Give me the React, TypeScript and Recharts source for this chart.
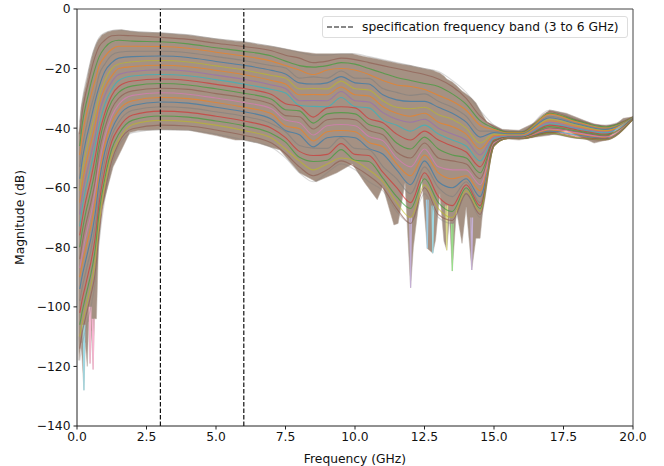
import * as React from "react"
import { Area, ComposedChart, Line, ReferenceLine, XAxis, YAxis } from "recharts"

// outline of the whole bundle of traces
const envFreq = [0.05, 0.07, 0.15, 0.25, 0.3, 0.37, 0.42, 0.47, 0.52, 0.58, 0.63, 0.7, 0.77, 0.9, 1.1, 1.3, 1.6, 1.9, 2.2, 3, 4, 5, 5.7, 6, 6.5, 7, 7.3, 8, 8.6, 9.35, 9.9, 10.36, 10.8, 11, 11.4, 11.55, 11.8, 12, 12.1, 12.4, 12.6, 12.8, 12.9, 13.05, 13.2, 13.3, 13.4, 13.5, 13.65, 13.85, 14, 14.2, 14.35, 14.5, 14.75, 15, 15.3, 15.9, 16.5, 17, 17.6, 18.6, 19.05, 19.4, 19.65, 20]
const envUpper = [-42, -41, -33, -28, -26, -23, -20.5, -18.5, -16.5, -14.5, -13.2, -11.5, -10.2, -8.7, -7.7, -7.2, -7, -7.4, -7.7, -8, -8.7, -10, -10.8, -11, -11.8, -12.5, -13, -14.3, -15, -15, -15, -16, -16.8, -17.2, -18, -18.3, -18.7, -19, -19.2, -19.8, -20.2, -20.6, -21, -21.5, -22.5, -23.5, -24, -24.5, -25.7, -27.5, -28.5, -30, -31.5, -34, -38, -39, -40.4, -40.7, -38, -33.9, -35, -38.7, -39.2, -38.5, -36.7, -36.2]
const envLower = [-110, -118, -112, -128, -112, -120, -105, -119, -108, -121, -104, -104, -80, -67, -60, -53, -47.3, -41.5, -40.8, -40.5, -40.7, -42.5, -44, -44, -45, -46.5, -47.3, -55, -58, -55, -52, -58.5, -64, -59.6, -72.5, -72, -58.5, -93.6, -80, -57, -80.4, -82, -77.5, -62, -78, -81, -70, -88, -67.5, -78.7, -66.5, -87.6, -77, -77, -53, -46, -43.5, -44, -43, -42.4, -40.7, -45, -44, -40, -38.3, -37]

const curveFreq = [0.1, 0.2, 0.3, 0.4, 0.5, 0.65, 0.8, 1, 1.25, 1.5, 2, 3, 4, 5, 6, 7, 7.5, 8, 8.5, 9, 9.5, 10, 10.5, 11, 11.5, 12, 12.5, 13, 13.5, 14, 14.5, 15, 15.5, 16, 17, 18, 19, 20]
const curves = [
  [-38, -30, -25, -21, -17, -12.5, -9.5, -8, -7.2, -7, -7.5, -8, -8.7, -10, -11, -12.5, -13.5, -14.5, -15.5, -15.5, -15, -15, -16, -17, -18, -19, -20, -21, -24, -28, -34, -39, -41, -41, -34, -37, -39, -36.2],
  [-42, -34, -29, -25, -21, -16, -12.5, -10.5, -9, -8.8, -9, -9.5, -10.2, -11.5, -12.6, -14, -15.5, -16.5, -18, -17.5, -16.5, -17, -18, -19, -20, -21, -22, -23.5, -26, -30, -36, -39.5, -41.2, -41.2, -34.5, -37.3, -39.3, -36.2],
  [-46, -38, -33, -29, -25, -20, -16, -13, -11, -10.5, -10.8, -11, -11.7, -13, -14.2, -15.8, -17.5, -19, -19.5, -19, -18, -18.5, -20, -21.5, -23, -24, -25, -26, -28.5, -32, -37.5, -40, -41.4, -41.4, -35, -37.6, -39.6, -36.3],
  [-49, -42, -37, -33, -29, -24, -19, -16, -13.5, -12.5, -12.5, -12.6, -13.2, -14.5, -15.8, -17.5, -19, -20.5, -22, -20.5, -20, -20.5, -22, -24, -25.5, -26, -27, -29, -31, -34, -39, -40.5, -41.6, -41.6, -35.3, -38, -40, -36.3],
  [-53, -46, -41, -37, -33, -28, -22, -18.5, -15.5, -14.5, -14.2, -14.2, -14.7, -16, -17.3, -19, -19.8, -23.2, -22.8, -23.2, -20.8, -23.2, -23.3, -26.7, -28, -29, -28.5, -31, -33, -36, -41, -41, -41.8, -41.8, -36, -38.4, -40.2, -36.4],
  [-57, -50, -45, -41, -37, -31, -26, -21, -18, -16.5, -16, -15.8, -16.3, -17.6, -18.9, -20.6, -21.8, -24.8, -25.2, -24.8, -22.7, -24.8, -25.2, -28.8, -30.5, -31, -31, -33, -35, -38, -43, -41.5, -42, -42, -36.5, -38.7, -40.5, -36.4],
  [-61, -54, -49, -45, -41, -35, -29, -24, -20, -18.5, -17.7, -17.3, -17.8, -19.1, -20.5, -22.3, -23.2, -26.8, -26.7, -26.8, -24.2, -26.8, -27.2, -30.8, -33, -33.5, -33, -35.5, -37, -40, -45, -42, -42.2, -42.2, -37, -39, -40.8, -36.5],
  [-65, -58, -53, -49, -45, -39, -32, -26.5, -22.5, -20, -19.3, -18.9, -19.4, -20.6, -22, -24, -25.2, -28.8, -28.7, -28.8, -26.2, -28.8, -29.2, -32.8, -35, -36, -35, -38, -39.5, -42, -47, -42.5, -42.4, -42.4, -37.5, -39.5, -41, -36.5],
  [-69, -62, -57, -53, -49, -43, -35, -29, -24.5, -22, -21, -20.4, -20.9, -22.2, -23.6, -25.5, -26.7, -30.8, -30.7, -30.8, -27.7, -30.8, -31.2, -34.8, -37, -38, -37, -40, -42, -44, -49, -43, -42.6, -42.6, -38, -40, -41.3, -36.6],
  [-73, -66, -61, -57, -53, -46, -39, -32, -27, -24, -22.5, -22, -22.4, -23.7, -25.2, -27, -28.2, -32.3, -32.7, -32.8, -29.7, -32.8, -33.2, -37.3, -39, -41, -39, -42, -44, -46, -51, -43.5, -42.8, -42.8, -38.5, -40.3, -41.6, -36.6],
  [-76, -70, -65, -61, -57, -50, -42, -35, -29, -26, -24.2, -23.5, -24, -25.3, -26.7, -28.7, -31.8, -32.7, -36.3, -33.2, -32.8, -33.2, -36.8, -38.2, -42, -44, -41, -44, -46, -48, -53, -44, -43, -43, -39, -40.6, -42, -36.7],
  [-80, -74, -69, -65, -61, -54, -45, -37, -31, -28, -25.8, -25, -25.5, -26.8, -28.3, -30.3, -33.8, -34.2, -38.3, -35.2, -34.8, -35.2, -38.8, -40.2, -45, -47, -43, -47, -49, -50, -55, -44.3, -43.1, -43.1, -39.5, -41, -42.3, -36.7],
  [-84, -78, -73, -69, -65, -58, -48, -40, -33.5, -30, -27.5, -26.6, -27, -28.4, -29.8, -32, -35.8, -36.2, -40.3, -37.2, -36.8, -37.2, -40.8, -42.2, -48, -50, -45, -50, -51, -52, -57, -44.6, -43.2, -43.2, -40, -41.3, -42.6, -36.8],
  [-87, -82, -77, -73, -69, -61, -52, -43, -36, -32, -29, -28.1, -28.6, -29.9, -31.4, -33.5, -37.3, -38.2, -42.3, -39.2, -38.8, -39.2, -42.8, -44.2, -50, -53, -47, -53, -54, -54, -59, -45, -43.3, -43.3, -40.3, -41.6, -43, -36.8],
  [-90, -85, -81, -77, -73, -65, -55, -45.5, -38, -34, -30.8, -29.7, -30.1, -31.4, -33, -35.2, -39.3, -40.2, -44.3, -41.2, -40.8, -41.2, -44.8, -46.2, -52, -56, -49, -55, -57, -56, -61, -45.3, -43.4, -43.4, -40.6, -42, -43.2, -36.9],
  [-94, -89, -85, -81, -77, -69, -58, -48, -40.5, -36, -32.4, -31.2, -31.6, -33, -34.5, -37, -40.8, -42.2, -46.3, -43.2, -42.8, -43.2, -46.8, -48.7, -54, -59, -51, -58, -60, -57, -63, -45.5, -43.4, -43.4, -41, -42.3, -43.4, -36.9],
  [-98, -93, -89, -85, -81, -73, -62, -51, -42.5, -38, -34, -32.8, -33.2, -34.5, -36, -38.5, -41.2, -45.8, -46.7, -46.8, -43.2, -46.8, -47.2, -52.8, -57, -62, -53, -60, -63, -58, -65, -45.7, -43.5, -43.5, -41.2, -42.6, -43.6, -37],
  [-102, -97, -93, -89, -85, -77, -65, -54, -44.5, -40, -35.6, -34.3, -34.7, -36, -37.6, -40, -43.2, -47.8, -49.2, -48.8, -45.2, -48.8, -49.2, -54.8, -60, -65, -55, -63, -66, -59, -66, -45.8, -43.5, -43.5, -41.4, -43, -43.7, -37],
  [-106, -101, -97, -93, -89, -81, -68, -57, -47, -42, -37.3, -35.9, -36.3, -37.6, -39.2, -41.8, -44.7, -49.8, -51.2, -50.8, -47.2, -50.8, -51.2, -56.8, -63, -67, -57, -65, -68, -60, -67, -45.9, -43.5, -43.5, -41.6, -43.2, -43.8, -37],
  [-110, -105, -101, -97, -93, -85, -72, -59, -49, -44, -38.8, -37.4, -37.8, -39, -40.8, -43.3, -47, -51, -54, -52, -50, -51, -54, -58, -65, -70, -59, -67, -70, -61, -68, -46, -43.5, -43.5, -41.8, -43.3, -43.9, -37],
  [-114, -108, -104, -100, -96, -89, -75, -62, -51, -45, -40.2, -39, -39.3, -40.6, -42.4, -45, -48.5, -53, -56, -54, -51, -53, -56, -60, -67, -72, -60, -69, -71, -62, -69, -46, -43.5, -43.5, -41.9, -43.4, -44, -37],
  [-118, -112, -108, -104, -100, -92, -78, -64, -53, -46, -41.5, -40.5, -40.7, -42, -44, -46.5, -50, -55, -58, -55, -52, -54, -58, -61, -68, -72, -62, -70, -72, -62, -70, -46, -43.5, -43.5, -42, -43.5, -44, -37],
]

// the pale deep notches that stick out below the bundle
const notchFreq = [0.25, 0.47, 0.58, 12, 12.6, 12.8, 13.3, 13.5, 14.2]
const notchTop = [-106, -100, -104, -70, -64, -66, -66, -72, -70]
const notchDepth = [-128, -119, -121, -93.6, -80.4, -82, -81, -88, -87.6]

const xTicks = [0, 2.5, 5, 7.5, 10, 12.5, 15, 17.5, 20]
const yTicks = [0, -20, -40, -60, -80, -100, -120, -140]
const specBand = [3, 6]

const tab10 = ["#1f77b4", "#ff7f0e", "#2ca02c", "#d62728", "#9467bd", "#8c564b", "#e377c2", "#7f7f7f", "#bcbd22", "#17becf"]
const lineOrder = [7, 5, 2, 1, 7, 0, 8, 1, 4, 9, 3, 2, 5, 6, 1, 0, 7, 3, 2, 8, 5, 7]
const notchColors = ["#9edae5", "#f7b6d2", "#f7b6d2", "#c5b0d5", "#9ecae1", "#9edae5", "#dbdb8d", "#98df8a", "#c5b0d5"]

const envelope = envFreq.map((f, i) => ({ f, band: [envLower[i], envUpper[i]] }))
const fontFamily = "'DejaVu Sans', sans-serif"
const tickStyle = { fontSize: 12.3, fill: "#111", fontFamily }

export default function App() {
  return (
    <div style={{ position: "absolute", left: 0, top: 0, width: 664, height: 466, background: "#fff", fontFamily }}>
      <ComposedChart width={664} height={466} data={envelope} margin={{ top: 9, right: 31, bottom: 0, left: 0 }}>
        <XAxis
          dataKey="f"
          type="number"
          domain={[0, 20]}
          ticks={xTicks}
          tickFormatter={(v: number) => v.toFixed(1)}
          tick={tickStyle}
          tickSize={3.5}
          tickMargin={3}
          height={40}
          stroke="#222"
          allowDataOverflow
          label={{ value: "Frequency (GHz)", position: "insideBottom", offset: 3, style: { fontSize: 12.3, fill: "#111", fontFamily } }}
        />
        <YAxis
          type="number"
          domain={[-140, 0]}
          ticks={yTicks}
          tickFormatter={(v: number) => String(v).replace("-", "\u2212")}
          tick={tickStyle}
          tickSize={3.5}
          tickMargin={3}
          width={77}
          stroke="#222"
          allowDataOverflow
          label={{ value: "Magnitude (dB)", angle: -90, position: "insideLeft", offset: 20, style: { fontSize: 12.3, fill: "#111", fontFamily, textAnchor: "middle" } }}
        />
        <Area dataKey="band" type="linear" fill="#a08b7c" fillOpacity={0.95} stroke="#b5aaa2" strokeWidth={1} strokeOpacity={0.5} dot={false} activeDot={false} isAnimationActive={false} />
        {notchFreq.map((f, i) => (
          <Line
            key={"notch" + f}
            data={[
              { f: f - 0.03, v: notchTop[i] },
              { f, v: notchDepth[i] },
              { f: f + 0.03, v: notchTop[i] },
            ]}
            dataKey="v"
            stroke={notchColors[i]}
            strokeWidth={1.2}
            dot={false}
            activeDot={false}
            isAnimationActive={false}
          />
        ))}
        {curves.map((values, i) => (
          <Line
            key={"trace" + i}
            data={curveFreq.map((f, j) => ({ f, v: values[j] }))}
            dataKey="v"
            type="monotone"
            stroke={tab10[lineOrder[i]]}
            strokeWidth={1.1}
            strokeOpacity={i === 0 || i === 21 ? 0.3 : 0.6}
            dot={false}
            activeDot={false}
            isAnimationActive={false}
          />
        ))}
        {specBand.map((f) => (
          <ReferenceLine key={f} x={f} stroke="#111" strokeWidth={1.2} strokeDasharray="4.5 2" />
        ))}
        <ReferenceLine x={20} stroke="#444" strokeWidth={1} />
        <ReferenceLine y={0} stroke="#444" strokeWidth={1} />
      </ComposedChart>
      <div
        style={{
          position: "absolute",
          left: 322,
          top: 16,
          width: 306,
          height: 22,
          boxSizing: "border-box",
          border: "1px solid #ddd",
          borderRadius: 3,
          background: "rgba(255,255,255,0.85)",
          fontSize: 12.3,
          color: "#111",
          lineHeight: "20px",
          whiteSpace: "nowrap",
        }}
      >
        <svg width={28} height={4} style={{ position: "absolute", left: 4, top: 8 }}>
          <line x1={0} x2={28} y1={2} y2={2} stroke="#111" strokeWidth={1.2} strokeDasharray="5 2" />
        </svg>
        <span style={{ position: "absolute", left: 39, top: 0 }}>specification frequency band (3 to 6 GHz)</span>
      </div>
    </div>
  )
}
